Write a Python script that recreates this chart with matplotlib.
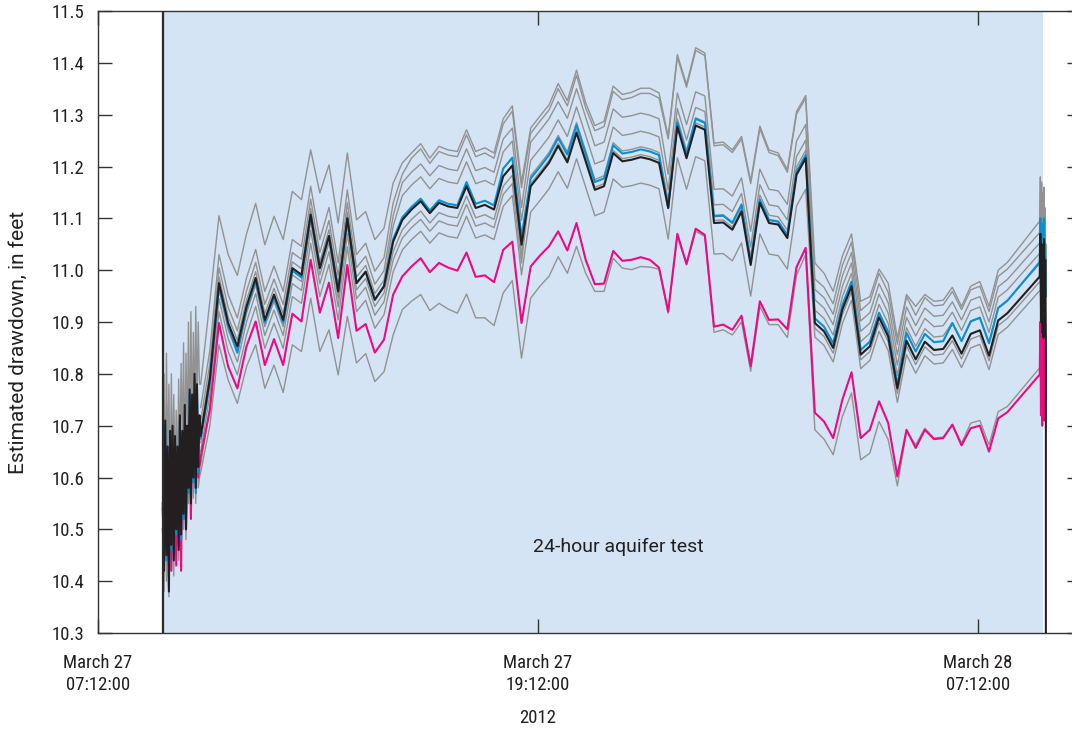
import matplotlib
matplotlib.use("Agg")
import matplotlib.pyplot as plt
from matplotlib import font_manager
import pandas as pd

_names = {f.name for f in font_manager.fontManager.ttflist}
_pick = "DejaVu Sans"
for _cand in ["Liberation Sans Narrow", "Roboto Condensed", "Open Sans Condensed", "Roboto", "Liberation Sans"]:
    if _cand in _names:
        _pick = _cand
        break
_wide = "Roboto" if "Roboto" in _names else "DejaVu Sans"
plt.rcParams['font.family'] = [_pick, 'DejaVu Sans']

# ---------------- data ----------------
# regular 15-minute samples starting 2012-03-27 10:00 (89 samples), plus last sample 2012-03-28 08:52:30
main_start = "2012-03-27 10:00"
n_main = 89
last_time = "2012-03-28 08:52:30"

black = [10.680, 10.790, 10.975, 10.898, 10.853, 10.930, 10.985, 10.904, 10.953, 10.904,
         11.004, 10.991, 11.107, 11.004, 11.066, 10.959, 11.100, 10.975, 10.997, 10.943,
         10.969, 11.055, 11.097, 11.117, 11.133, 11.110, 11.130, 11.123, 11.120, 11.162,
         11.120, 11.126, 11.117, 11.181, 11.202, 11.049, 11.162, 11.184, 11.207, 11.240,
         11.208, 11.265, 11.210, 11.155, 11.162, 11.226, 11.210, 11.213, 11.218, 11.214,
         11.207, 11.120, 11.277, 11.216, 11.279, 11.271, 11.091, 11.092, 11.078, 11.113,
         11.010, 11.130, 11.091, 11.088, 11.062, 11.184, 11.216, 10.898, 10.882, 10.850,
         10.924, 10.969, 10.837, 10.853, 10.909, 10.872, 10.772, 10.864, 10.828, 10.862,
         10.846, 10.848, 10.874, 10.839, 10.877, 10.884, 10.835, 10.903, 10.917, 10.987]

blue = [10.675, 10.785, 10.970, 10.893, 10.841, 10.925, 10.980, 10.899, 10.948, 10.899,
        10.999, 10.986, 11.107, 11.004, 11.066, 10.959, 11.100, 10.975, 10.997, 10.943,
        10.969, 11.060, 11.102, 11.122, 11.138, 11.115, 11.135, 11.128, 11.125, 11.170,
        11.128, 11.134, 11.125, 11.196, 11.217, 11.064, 11.177, 11.199, 11.222, 11.255,
        11.223, 11.280, 11.225, 11.170, 11.177, 11.241, 11.225, 11.228, 11.233, 11.229,
        11.222, 11.120, 11.285, 11.224, 11.292, 11.284, 11.104, 11.105, 11.091, 11.126,
        11.016, 11.136, 11.097, 11.094, 11.068, 11.190, 11.222, 10.907, 10.891, 10.859,
        10.933, 10.978, 10.846, 10.862, 10.918, 10.881, 10.778, 10.879, 10.843, 10.877,
        10.861, 10.863, 10.898, 10.863, 10.901, 10.908, 10.859, 10.927, 10.941, 11.015]

pink = [10.640, 10.730, 10.898, 10.814, 10.772, 10.853, 10.901, 10.817, 10.867, 10.817,
        10.916, 10.901, 11.020, 10.918, 10.976, 10.869, 11.010, 10.883, 10.896, 10.841,
        10.866, 10.953, 10.988, 11.007, 11.023, 10.996, 11.014, 11.005, 10.999, 11.034,
        10.987, 10.990, 10.977, 11.039, 11.055, 10.898, 11.007, 11.028, 11.046, 11.075,
        11.038, 11.091, 11.020, 10.973, 10.974, 11.037, 11.018, 11.020, 11.025, 11.020,
        11.005, 10.920, 11.070, 11.012, 11.080, 11.068, 10.891, 10.895, 10.885, 10.912,
        10.815, 10.940, 10.904, 10.905, 10.886, 11.006, 11.043, 10.725, 10.708, 10.676,
        10.750, 10.803, 10.676, 10.692, 10.747, 10.705, 10.602, 10.692, 10.657, 10.692,
        10.674, 10.676, 10.702, 10.662, 10.695, 10.700, 10.650, 10.714, 10.726, 10.798]

gray1 = [10.780, 10.940, 11.105, 11.030, 10.990, 11.070, 11.129, 11.049, 11.104, 11.059,
         11.152, 11.136, 11.232, 11.149, 11.203, 11.091, 11.226, 11.097, 11.113, 11.059,
         11.081, 11.168, 11.207, 11.226, 11.244, 11.216, 11.239, 11.232, 11.229, 11.271,
         11.229, 11.236, 11.226, 11.292, 11.317, 11.169, 11.274, 11.297, 11.319, 11.360,
         11.327, 11.386, 11.323, 11.279, 11.287, 11.355, 11.339, 11.343, 11.351, 11.351,
         11.342, 11.258, 11.416, 11.358, 11.429, 11.419, 11.245, 11.247, 11.232, 11.258,
         11.172, 11.278, 11.232, 11.226, 11.194, 11.306, 11.337, 11.014, 10.994, 10.959,
         11.027, 11.070, 10.940, 10.949, 11.002, 10.975, 10.869, 10.953, 10.930, 10.953,
         10.940, 10.942, 10.967, 10.930, 10.969, 10.978, 10.930, 11.000, 11.015, 11.094]

gray2 = [10.735, 10.845, 11.030, 10.953, 10.908, 10.985, 11.040, 10.959, 11.008, 10.959,
         11.059, 11.046, 11.162, 11.059, 11.121, 11.014, 11.155, 11.030, 11.052, 10.998,
         11.024, 11.130, 11.185, 11.216, 11.234, 11.206, 11.229, 11.222, 11.219, 11.261,
         11.219, 11.226, 11.216, 11.282, 11.307, 11.159, 11.264, 11.287, 11.309, 11.350,
         11.317, 11.376, 11.313, 11.269, 11.277, 11.345, 11.329, 11.333, 11.341, 11.341,
         11.332, 11.253, 11.411, 11.353, 11.424, 11.414, 11.240, 11.242, 11.227, 11.253,
         11.167, 11.273, 11.227, 11.221, 11.189, 11.301, 11.332, 10.983, 10.967, 10.935,
         11.009, 11.054, 10.922, 10.938, 10.994, 10.957, 10.857, 10.949, 10.913, 10.947,
         10.931, 10.933, 10.959, 10.924, 10.962, 10.969, 10.920, 10.988, 11.002, 11.072]

gray3 = [10.710, 10.820, 11.005, 10.928, 10.883, 10.960, 11.015, 10.934, 10.983, 10.934,
         11.034, 11.021, 11.137, 11.034, 11.096, 10.989, 11.130, 11.005, 11.027, 10.973,
         10.999, 11.105, 11.169, 11.189, 11.205, 11.182, 11.202, 11.195, 11.192, 11.234,
         11.192, 11.198, 11.189, 11.253, 11.274, 11.121, 11.247, 11.269, 11.292, 11.325,
         11.293, 11.350, 11.295, 11.240, 11.247, 11.311, 11.295, 11.298, 11.303, 11.299,
         11.292, 11.185, 11.342, 11.281, 11.344, 11.336, 11.156, 11.157, 11.143, 11.178,
         11.075, 11.195, 11.156, 11.153, 11.127, 11.249, 11.281, 10.963, 10.947, 10.915,
         10.989, 11.034, 10.902, 10.918, 10.974, 10.937, 10.837, 10.929, 10.893, 10.927,
         10.911, 10.913, 10.939, 10.904, 10.942, 10.949, 10.900, 10.968, 10.982, 11.052]

gray4 = [10.692, 10.802, 10.987, 10.910, 10.865, 10.942, 10.997, 10.916, 10.965, 10.916,
         11.016, 11.003, 11.119, 11.016, 11.078, 10.971, 11.112, 10.987, 11.009, 10.955,
         10.981, 11.085, 11.144, 11.164, 11.180, 11.157, 11.177, 11.170, 11.167, 11.209,
         11.167, 11.173, 11.164, 11.228, 11.249, 11.096, 11.212, 11.234, 11.257, 11.290,
         11.258, 11.315, 11.260, 11.205, 11.212, 11.276, 11.260, 11.263, 11.268, 11.264,
         11.257, 11.155, 11.312, 11.251, 11.314, 11.306, 11.126, 11.127, 11.113, 11.148,
         11.045, 11.165, 11.126, 11.123, 11.097, 11.219, 11.251, 10.943, 10.927, 10.895,
         10.969, 11.014, 10.882, 10.898, 10.954, 10.917, 10.817, 10.909, 10.873, 10.907,
         10.891, 10.893, 10.919, 10.884, 10.922, 10.929, 10.880, 10.948, 10.962, 11.032]

gray5 = [10.667, 10.777, 10.962, 10.885, 10.840, 10.917, 10.972, 10.891, 10.940, 10.891,
         10.991, 10.978, 11.094, 10.991, 11.053, 10.946, 11.087, 10.962, 10.984, 10.930,
         10.956, 11.036, 11.078, 11.098, 11.114, 11.091, 11.111, 11.104, 11.101, 11.143,
         11.101, 11.107, 11.098, 11.162, 11.183, 11.030, 11.182, 11.204, 11.227, 11.260,
         11.228, 11.285, 11.230, 11.175, 11.182, 11.246, 11.230, 11.233, 11.238, 11.234,
         11.227, 11.135, 11.292, 11.231, 11.294, 11.286, 11.106, 11.107, 11.093, 11.128,
         11.025, 11.145, 11.106, 11.103, 11.077, 11.199, 11.231, 10.923, 10.907, 10.875,
         10.949, 10.994, 10.862, 10.878, 10.934, 10.897, 10.797, 10.889, 10.853, 10.887,
         10.871, 10.873, 10.899, 10.864, 10.902, 10.909, 10.860, 10.928, 10.942, 11.012]

gray6 = [10.650, 10.760, 10.945, 10.868, 10.823, 10.900, 10.955, 10.874, 10.923, 10.874,
         10.974, 10.961, 11.077, 10.974, 11.036, 10.929, 11.070, 10.945, 10.967, 10.913,
         10.939, 11.020, 11.062, 11.082, 11.098, 11.075, 11.095, 11.088, 11.085, 11.127,
         11.085, 11.091, 11.082, 11.146, 11.167, 11.014, 11.167, 11.189, 11.212, 11.245,
         11.213, 11.270, 11.215, 11.160, 11.167, 11.231, 11.215, 11.218, 11.223, 11.219,
         11.212, 11.125, 11.282, 11.221, 11.284, 11.276, 11.096, 11.097, 11.083, 11.118,
         11.015, 11.135, 11.096, 11.093, 11.067, 11.189, 11.221, 10.888, 10.872, 10.840,
         10.914, 10.959, 10.827, 10.843, 10.899, 10.862, 10.762, 10.854, 10.818, 10.852,
         10.836, 10.838, 10.864, 10.829, 10.867, 10.874, 10.825, 10.893, 10.907, 10.977]

gray7 = [10.625, 10.735, 10.920, 10.843, 10.798, 10.875, 10.930, 10.849, 10.898, 10.849,
         10.949, 10.936, 11.052, 10.949, 11.011, 10.904, 11.045, 10.920, 10.942, 10.888,
         10.914, 10.997, 11.039, 11.059, 11.075, 11.052, 11.072, 11.065, 11.062, 11.104,
         11.062, 11.068, 11.059, 11.123, 11.144, 10.991, 11.112, 11.134, 11.157, 11.190,
         11.158, 11.215, 11.160, 11.105, 11.112, 11.176, 11.160, 11.163, 11.168, 11.164,
         11.157, 11.060, 11.217, 11.156, 11.219, 11.211, 11.031, 11.032, 11.018, 11.053,
         10.950, 11.070, 11.031, 11.028, 11.002, 11.124, 11.156, 10.871, 10.855, 10.823,
         10.897, 10.942, 10.810, 10.826, 10.882, 10.845, 10.745, 10.837, 10.801, 10.835,
         10.819, 10.821, 10.847, 10.812, 10.850, 10.857, 10.808, 10.876, 10.890, 10.960]

gray8 = [10.610, 10.700, 10.856, 10.788, 10.743, 10.814, 10.856, 10.772, 10.817, 10.764,
         10.856, 10.843, 10.946, 10.843, 10.885, 10.798, 10.911, 10.821, 10.839, 10.785,
         10.804, 10.875, 10.924, 10.940, 10.953, 10.922, 10.936, 10.925, 10.917, 10.954,
         10.908, 10.908, 10.893, 10.956, 10.980, 10.830, 10.946, 10.969, 10.988, 11.026,
         10.994, 11.046, 10.994, 10.959, 10.959, 11.023, 11.004, 11.001, 11.007, 11.006,
         11.002, 10.917, 11.065, 11.010, 11.075, 11.065, 10.880, 10.885, 10.875, 10.900,
         10.805, 10.930, 10.895, 10.895, 10.870, 10.990, 11.030, 10.692, 10.674, 10.644,
         10.718, 10.763, 10.634, 10.647, 10.708, 10.673, 10.584, 10.689, 10.663, 10.695,
         10.676, 10.678, 10.702, 10.666, 10.705, 10.710, 10.663, 10.727, 10.737, 10.811]

# high-frequency record at the start of the test (2-minute samples from 08:58)
start_noise_t0 = "2012-03-27 08:58"
black_start = [10.55, 10.42, 10.71, 10.45, 10.66, 10.38, 10.69, 10.47, 10.70, 10.44, 10.68,
               10.50, 10.66, 10.46, 10.72, 10.49, 10.69, 10.53, 10.74, 10.50, 10.70, 10.58,
               10.77, 10.55, 10.76, 10.60, 10.80, 10.58, 10.78, 10.62, 10.72]
blue_start = [10.54, 10.43, 10.70, 10.44, 10.65, 10.39, 10.68, 10.46, 10.69, 10.45, 10.67,
              10.49, 10.65, 10.47, 10.71, 10.48, 10.68, 10.52, 10.73, 10.51, 10.69, 10.57,
              10.76, 10.56, 10.75, 10.59, 10.79, 10.57, 10.77, 10.61, 10.71]
pink_start = [10.50, 10.45, 10.62, 10.47, 10.58, 10.44, 10.60, 10.42, 10.62, 10.46, 10.60,
              10.43, 10.64, 10.50, 10.66, 10.42, 10.68, 10.52, 10.70, 10.50, 10.66, 10.58,
              10.72, 10.52, 10.70, 10.60, 10.74, 10.58, 10.72, 10.60, 10.62]
grayhi_start = [10.62, 10.80, 10.58, 10.84, 10.63, 10.78, 10.55, 10.80, 10.62, 10.76, 10.60,
                10.73, 10.58, 10.79, 10.64, 10.82, 10.66, 10.86, 10.62, 10.84, 10.68, 10.90,
                10.66, 10.92, 10.70, 10.88, 10.72, 10.93, 10.74, 10.90, 10.78]
graylo_start = [10.52, 10.38, 10.60, 10.40, 10.57, 10.37, 10.62, 10.42, 10.60, 10.41, 10.63,
                10.45, 10.60, 10.44, 10.66, 10.46, 10.63, 10.50, 10.68, 10.48, 10.66, 10.55,
                10.70, 10.52, 10.69, 10.56, 10.72, 10.55, 10.70, 10.58, 10.60]

# high-frequency record at the end of the test (1-minute samples from 08:53)
end_noise_t0 = "2012-03-28 08:53"
black_end = [10.99, 11.07, 10.90, 11.05, 10.88, 11.04, 10.87, 11.06, 10.90, 11.02, 10.87]
blue_end = [11.02, 11.10, 10.95, 11.09, 10.93, 11.08, 10.92, 11.10, 10.95, 11.05, 10.95]
pink_end = [10.80, 10.90, 10.72, 10.88, 10.70, 10.86, 10.72, 10.89, 10.71, 10.84, 10.75]
grayhi_end = [11.10, 11.18, 10.95, 11.17, 10.92, 11.15, 10.90, 11.16, 10.93, 11.12, 10.95]
graylo_end = [10.81, 10.88, 10.72, 10.86, 10.71, 10.85, 10.73, 10.87, 10.72, 10.83, 10.76]
black_final_drop = 10.0   # record drops off the chart at 09:03

test_start = "2012-03-27 08:58:20"
test_end = "2012-03-28 08:58:20"
xlim = ("2012-03-27 07:12", "2012-03-28 10:00")
ylim = (10.3, 11.5)
yticks = [10.3, 10.4, 10.5, 10.6, 10.7, 10.8, 10.9, 11.0, 11.1, 11.2, 11.3, 11.4, 11.5]
xtick_times = ["2012-03-27 07:12", "2012-03-27 19:12", "2012-03-28 07:12"]
xtick_labels = ["March 27\n07:12:00", "March 27\n19:12:00", "March 28\n07:12:00"]

# ---------------- times ----------------
t_main = list(pd.date_range(main_start, periods=n_main, freq="15min")) + [pd.Timestamp(last_time)]
t_start = list(pd.date_range(start_noise_t0, periods=len(black_start), freq="2min"))
t_end = list(pd.date_range(end_noise_t0, periods=len(black_end), freq="1min"))

# ---------------- figure ----------------
W, H = 1072, 732
fig = plt.figure(figsize=(W / 100, H / 100), dpi=100)
ax = fig.add_axes([98 / W, (H - 633) / H, 982.7 / W, 622 / H])

TXT = "#231f20"
GRAY = "#929292"
BLUE = "#0a8fd2"
PINK = "#ec0a80"
BLACK = "#231f20"

ax.axvspan(pd.Timestamp(test_start), pd.Timestamp(test_end), color="#d4e4f4", zorder=0, lw=0)
ax.axvline(pd.Timestamp(test_start), color="#2b2b2b", lw=1.6, zorder=6)

grays_mid = [gray2, gray3, gray4, gray5, gray6, gray7]
for g in grays_mid:
    ax.plot(t_main, g, color=GRAY, lw=1.0, zorder=2)
ax.plot(t_start + t_main + t_end, grayhi_start + gray1 + grayhi_end, color=GRAY, lw=1.0, zorder=2)
ax.plot(t_start + t_main + t_end, graylo_start + gray8 + graylo_end, color=GRAY, lw=1.0, zorder=2)

ax.plot(t_start + t_main + t_end, pink_start + pink + pink_end, color=PINK, lw=1.5, zorder=3)
ax.plot(t_start + t_main + t_end, blue_start + blue + blue_end, color=BLUE, lw=1.5, zorder=4)
ax.plot(t_start + t_main + t_end + [t_end[-1]],
        black_start + black + black_end + [black_final_drop], color=BLACK, lw=1.5, zorder=5)

ax.text(pd.Timestamp("2012-03-27 21:23"), 10.466, "24-hour aquifer test",
        ha="center", va="center", fontsize=14, color=TXT, zorder=7,
        family=[_wide, "DejaVu Sans"])

ax.set_xlim(pd.Timestamp(xlim[0]), pd.Timestamp(xlim[1]))
ax.set_ylim(*ylim)
ax.set_yticks(yticks)
ax.set_yticklabels([f"{v:.1f}" for v in yticks])
ax.set_xticks([pd.Timestamp(t) for t in xtick_times])
ax.set_xticklabels(xtick_labels, linespacing=1.3)

ax.tick_params(axis="y", direction="in", left=True, right=True, length=10, width=1,
               color="#333333", labelsize=13.5, labelcolor=TXT, pad=10)
ax.tick_params(axis="x", direction="in", top=True, bottom=True, length=10, width=1,
               color="#333333", labelsize=13.5, labelcolor=TXT, pad=15)
for s in ax.spines.values():
    s.set_color("#333333")
    s.set_linewidth(1.0)

fig.text(18 / W, 1 - 342 / H, "Estimated drawdown, in feet", rotation=90,
         ha="center", va="center", fontsize=15, color=TXT, family=[_wide, "DejaVu Sans"])
fig.text(538 / W, 1 - 718 / H, "2012", ha="center", va="center", fontsize=13.5, color=TXT)

fig.savefig("out.png", dpi=100)
